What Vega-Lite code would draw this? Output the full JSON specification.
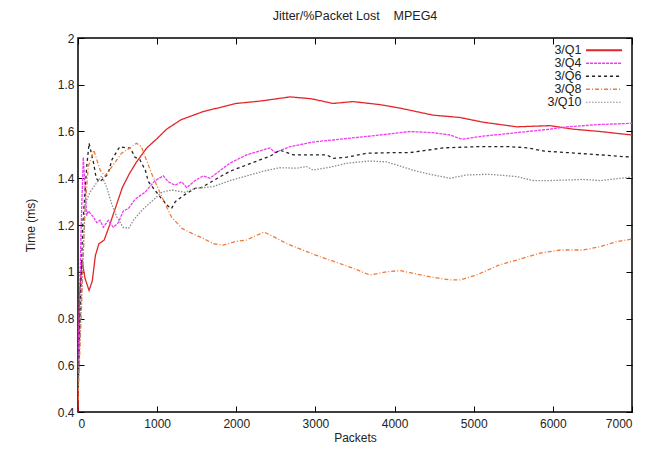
{
  "$schema": "https://vega.github.io/schema/vega-lite/v6.json",
  "width": 554,
  "height": 374,
  "autosize": {"type": "none"},
  "padding": {"left": 78, "top": 38, "right": 23, "bottom": 40},
  "background": "white",
  "title": {"text": "Jitter/%Packet Lost\u00a0\u00a0\u00a0\u00a0MPEG4", "fontSize": 12.5, "fontWeight": "normal", "font": "Liberation Sans", "offset": 10, "anchor": "middle", "color": "#222"},
  "config": {
    "view": {"stroke": "#000", "strokeWidth": 1.5},
    "font": "Liberation Sans",
    "axis": {"grid": false, "domain": false, "tickColor": "#000", "tickSize": -6, "tickWidth": 1, "labelFont": "Liberation Sans", "labelFontSize": 12, "labelColor": "#222", "titleFont": "Liberation Sans", "titleFontSize": 12, "titleFontWeight": "normal", "titleColor": "#222"}
  },
  "datasets": {
    "curves": [
      {"s":"3/Q1","x":0,"y":0.40},{"s":"3/Q1","x":20,"y":0.90},{"s":"3/Q1","x":50,"y":1.05},{"s":"3/Q1","x":90,"y":0.97},{"s":"3/Q1","x":140,"y":0.92},{"s":"3/Q1","x":180,"y":0.96},{"s":"3/Q1","x":220,"y":1.07},{"s":"3/Q1","x":265,"y":1.12},{"s":"3/Q1","x":330,"y":1.135},{"s":"3/Q1","x":400,"y":1.2},{"s":"3/Q1","x":470,"y":1.27},{"s":"3/Q1","x":560,"y":1.36},{"s":"3/Q1","x":650,"y":1.42},{"s":"3/Q1","x":740,"y":1.47},{"s":"3/Q1","x":870,"y":1.53},{"s":"3/Q1","x":1000,"y":1.57},{"s":"3/Q1","x":1120,"y":1.61},{"s":"3/Q1","x":1300,"y":1.65},{"s":"3/Q1","x":1580,"y":1.685},{"s":"3/Q1","x":2000,"y":1.72},{"s":"3/Q1","x":2300,"y":1.73},{"s":"3/Q1","x":2680,"y":1.748},{"s":"3/Q1","x":2950,"y":1.74},{"s":"3/Q1","x":3220,"y":1.72},{"s":"3/Q1","x":3475,"y":1.728},{"s":"3/Q1","x":3815,"y":1.715},{"s":"3/Q1","x":4070,"y":1.70},{"s":"3/Q1","x":4485,"y":1.67},{"s":"3/Q1","x":4825,"y":1.66},{"s":"3/Q1","x":5115,"y":1.64},{"s":"3/Q1","x":5545,"y":1.62},{"s":"3/Q1","x":5965,"y":1.625},{"s":"3/Q1","x":6255,"y":1.61},{"s":"3/Q1","x":6595,"y":1.60},{"s":"3/Q1","x":7000,"y":1.585},

      {"s":"3/Q4","x":0,"y":0.55},{"s":"3/Q4","x":40,"y":1.2},{"s":"3/Q4","x":67,"y":1.49},{"s":"3/Q4","x":110,"y":1.24},{"s":"3/Q4","x":130,"y":1.26},{"s":"3/Q4","x":193,"y":1.235},{"s":"3/Q4","x":236,"y":1.21},{"s":"3/Q4","x":278,"y":1.22},{"s":"3/Q4","x":320,"y":1.19},{"s":"3/Q4","x":383,"y":1.22},{"s":"3/Q4","x":446,"y":1.19},{"s":"3/Q4","x":509,"y":1.21},{"s":"3/Q4","x":572,"y":1.26},{"s":"3/Q4","x":636,"y":1.27},{"s":"3/Q4","x":720,"y":1.31},{"s":"3/Q4","x":847,"y":1.34},{"s":"3/Q4","x":973,"y":1.39},{"s":"3/Q4","x":1078,"y":1.41},{"s":"3/Q4","x":1141,"y":1.385},{"s":"3/Q4","x":1226,"y":1.37},{"s":"3/Q4","x":1310,"y":1.385},{"s":"3/Q4","x":1373,"y":1.36},{"s":"3/Q4","x":1480,"y":1.39},{"s":"3/Q4","x":1580,"y":1.41},{"s":"3/Q4","x":1668,"y":1.40},{"s":"3/Q4","x":1920,"y":1.465},{"s":"3/Q4","x":2131,"y":1.50},{"s":"3/Q4","x":2426,"y":1.53},{"s":"3/Q4","x":2489,"y":1.51},{"s":"3/Q4","x":2679,"y":1.535},{"s":"3/Q4","x":2969,"y":1.555},{"s":"3/Q4","x":3395,"y":1.57},{"s":"3/Q4","x":3816,"y":1.585},{"s":"3/Q4","x":4195,"y":1.60},{"s":"3/Q4","x":4485,"y":1.595},{"s":"3/Q4","x":4700,"y":1.585},{"s":"3/Q4","x":4848,"y":1.567},{"s":"3/Q4","x":5117,"y":1.58},{"s":"3/Q4","x":5543,"y":1.595},{"s":"3/Q4","x":5964,"y":1.61},{"s":"3/Q4","x":6175,"y":1.62},{"s":"3/Q4","x":6595,"y":1.63},{"s":"3/Q4","x":7000,"y":1.635},

      {"s":"3/Q6","x":0,"y":0.5},{"s":"3/Q6","x":60,"y":1.2},{"s":"3/Q6","x":110,"y":1.45},{"s":"3/Q6","x":140,"y":1.55},{"s":"3/Q6","x":200,"y":1.46},{"s":"3/Q6","x":230,"y":1.40},{"s":"3/Q6","x":270,"y":1.385},{"s":"3/Q6","x":330,"y":1.40},{"s":"3/Q6","x":380,"y":1.42},{"s":"3/Q6","x":430,"y":1.48},{"s":"3/Q6","x":500,"y":1.52},{"s":"3/Q6","x":530,"y":1.535},{"s":"3/Q6","x":600,"y":1.53},{"s":"3/Q6","x":660,"y":1.53},{"s":"3/Q6","x":720,"y":1.49},{"s":"3/Q6","x":780,"y":1.48},{"s":"3/Q6","x":850,"y":1.435},{"s":"3/Q6","x":890,"y":1.385},{"s":"3/Q6","x":970,"y":1.35},{"s":"3/Q6","x":1050,"y":1.315},{"s":"3/Q6","x":1140,"y":1.28},{"s":"3/Q6","x":1180,"y":1.27},{"s":"3/Q6","x":1230,"y":1.30},{"s":"3/Q6","x":1350,"y":1.33},{"s":"3/Q6","x":1480,"y":1.357},{"s":"3/Q6","x":1560,"y":1.36},{"s":"3/Q6","x":1710,"y":1.39},{"s":"3/Q6","x":1920,"y":1.43},{"s":"3/Q6","x":2130,"y":1.457},{"s":"3/Q6","x":2430,"y":1.495},{"s":"3/Q6","x":2550,"y":1.52},{"s":"3/Q6","x":2720,"y":1.50},{"s":"3/Q6","x":2970,"y":1.50},{"s":"3/Q6","x":3140,"y":1.50},{"s":"3/Q6","x":3225,"y":1.485},{"s":"3/Q6","x":3395,"y":1.49},{"s":"3/Q6","x":3650,"y":1.507},{"s":"3/Q6","x":4030,"y":1.51},{"s":"3/Q6","x":4200,"y":1.51},{"s":"3/Q6","x":4620,"y":1.53},{"s":"3/Q6","x":5040,"y":1.535},{"s":"3/Q6","x":5460,"y":1.535},{"s":"3/Q6","x":5680,"y":1.53},{"s":"3/Q6","x":5890,"y":1.516},{"s":"3/Q6","x":6175,"y":1.51},{"s":"3/Q6","x":6600,"y":1.50},{"s":"3/Q6","x":7000,"y":1.49},

      {"s":"3/Q8","x":0,"y":0.45},{"s":"3/Q8","x":50,"y":0.9},{"s":"3/Q8","x":90,"y":1.28},{"s":"3/Q8","x":130,"y":1.45},{"s":"3/Q8","x":200,"y":1.52},{"s":"3/Q8","x":280,"y":1.435},{"s":"3/Q8","x":340,"y":1.41},{"s":"3/Q8","x":430,"y":1.45},{"s":"3/Q8","x":550,"y":1.507},{"s":"3/Q8","x":660,"y":1.53},{"s":"3/Q8","x":740,"y":1.55},{"s":"3/Q8","x":800,"y":1.535},{"s":"3/Q8","x":930,"y":1.42},{"s":"3/Q8","x":1060,"y":1.32},{"s":"3/Q8","x":1180,"y":1.235},{"s":"3/Q8","x":1310,"y":1.186},{"s":"3/Q8","x":1440,"y":1.164},{"s":"3/Q8","x":1583,"y":1.143},{"s":"3/Q8","x":1710,"y":1.12},{"s":"3/Q8","x":1836,"y":1.114},{"s":"3/Q8","x":2000,"y":1.13},{"s":"3/Q8","x":2130,"y":1.136},{"s":"3/Q8","x":2350,"y":1.17},{"s":"3/Q8","x":2470,"y":1.15},{"s":"3/Q8","x":2640,"y":1.12},{"s":"3/Q8","x":2890,"y":1.086},{"s":"3/Q8","x":3060,"y":1.064},{"s":"3/Q8","x":3225,"y":1.045},{"s":"3/Q8","x":3435,"y":1.02},{"s":"3/Q8","x":3690,"y":0.986},{"s":"3/Q8","x":3900,"y":1.0},{"s":"3/Q8","x":4070,"y":1.005},{"s":"3/Q8","x":4280,"y":0.99},{"s":"3/Q8","x":4490,"y":0.976},{"s":"3/Q8","x":4700,"y":0.965},{"s":"3/Q8","x":4830,"y":0.965},{"s":"3/Q8","x":5035,"y":0.986},{"s":"3/Q8","x":5330,"y":1.03},{"s":"3/Q8","x":5545,"y":1.05},{"s":"3/Q8","x":5840,"y":1.08},{"s":"3/Q8","x":6090,"y":1.093},{"s":"3/Q8","x":6385,"y":1.093},{"s":"3/Q8","x":6595,"y":1.107},{"s":"3/Q8","x":6805,"y":1.129},{"s":"3/Q8","x":7000,"y":1.14},

      {"s":"3/Q10","x":0,"y":0.5},{"s":"3/Q10","x":60,"y":1.05},{"s":"3/Q10","x":90,"y":1.29},{"s":"3/Q10","x":150,"y":1.34},{"s":"3/Q10","x":235,"y":1.38},{"s":"3/Q10","x":300,"y":1.41},{"s":"3/Q10","x":365,"y":1.36},{"s":"3/Q10","x":425,"y":1.29},{"s":"3/Q10","x":490,"y":1.235},{"s":"3/Q10","x":570,"y":1.19},{"s":"3/Q10","x":640,"y":1.186},{"s":"3/Q10","x":700,"y":1.22},{"s":"3/Q10","x":810,"y":1.264},{"s":"3/Q10","x":930,"y":1.30},{"s":"3/Q10","x":1060,"y":1.34},{"s":"3/Q10","x":1185,"y":1.35},{"s":"3/Q10","x":1350,"y":1.34},{"s":"3/Q10","x":1480,"y":1.357},{"s":"3/Q10","x":1710,"y":1.364},{"s":"3/Q10","x":1920,"y":1.39},{"s":"3/Q10","x":2130,"y":1.41},{"s":"3/Q10","x":2340,"y":1.43},{"s":"3/Q10","x":2550,"y":1.445},{"s":"3/Q10","x":2760,"y":1.443},{"s":"3/Q10","x":2890,"y":1.45},{"s":"3/Q10","x":2970,"y":1.435},{"s":"3/Q10","x":3180,"y":1.447},{"s":"3/Q10","x":3395,"y":1.464},{"s":"3/Q10","x":3690,"y":1.474},{"s":"3/Q10","x":3900,"y":1.47},{"s":"3/Q10","x":4070,"y":1.452},{"s":"3/Q10","x":4280,"y":1.43},{"s":"3/Q10","x":4490,"y":1.414},{"s":"3/Q10","x":4700,"y":1.40},{"s":"3/Q10","x":4910,"y":1.414},{"s":"3/Q10","x":5200,"y":1.417},{"s":"3/Q10","x":5545,"y":1.407},{"s":"3/Q10","x":5750,"y":1.39},{"s":"3/Q10","x":5965,"y":1.39},{"s":"3/Q10","x":6385,"y":1.395},{"s":"3/Q10","x":6595,"y":1.39},{"s":"3/Q10","x":7000,"y":1.405}
    ]
  },
  "data": {"name": "curves"},
  "resolve": {"axis": {"x": "independent", "y": "independent"}},
  "layer": [
    {
      "mark": {"type": "line", "strokeWidth": 1.3, "clip": true},
      "encoding": {
        "x": {"field": "x", "type": "quantitative", "scale": {"domain": [0, 7000], "nice": false, "zero": false},
              "axis": {"values": [0,1000,2000,3000,4000,5000,6000,7000], "format": "d", "title": "Packets", "labelPadding": 12, "titlePadding": 3}},
        "y": {"field": "y", "type": "quantitative", "scale": {"domain": [0.4, 2], "nice": false, "zero": false},
              "axis": {"values": [0.4,0.6,0.8,1,1.2,1.4,1.6,1.8,2], "format": "~g", "title": "Time (ms)", "labelPadding": 10, "titlePadding": 20}},
        "color": {"field": "s", "type": "nominal",
                  "scale": {"domain": ["3/Q1","3/Q4","3/Q6","3/Q8","3/Q10"], "range": ["#e3262a","#f03cf0","#222222","#f07a3a","#8c8c8c"]},
                  "legend": {"title": null, "orient": "top-right", "offset": 6, "symbolType": "M-4.44,0L2.76,0", "symbolSize": 100, "symbolStrokeWidth": 1.6, "symbolFillColor": "transparent", "labelFontSize": 12.5, "labelFont": "Liberation Sans", "labelColor": "#222", "labelAlign": "right", "labelOffset": -33, "rowPadding": 0, "padding": 0}},
        "strokeDash": {"field": "s", "type": "nominal",
                       "scale": {"domain": ["3/Q1","3/Q4","3/Q6","3/Q8","3/Q10"], "range": [[1,0],[3,1],[3,3],[4,2,1,2],[1.5,1.5]]},
                       "legend": null},
        "strokeWidth": {"field": "s", "type": "nominal",
                        "scale": {"domain": ["3/Q1","3/Q4","3/Q6","3/Q8","3/Q10"], "range": [1.8,1.2,1.5,1.2,1.2]},
                        "legend": null},
        "order": {"field": "x", "type": "quantitative"}
      }
    },
    {
      "mark": {"type": "line", "opacity": 0},
      "encoding": {
        "x": {"field": "x", "type": "quantitative", "axis": {"orient": "top", "values": [0,1000,2000,3000,4000,5000,6000,7000], "labels": false, "title": null}},
        "y": {"field": "y", "type": "quantitative", "axis": {"orient": "right", "values": [0.4,0.6,0.8,1,1.2,1.4,1.6,1.8,2], "labels": false, "title": null}},
        "detail": {"field": "s", "type": "nominal"}
      }
    }
  ]
}
